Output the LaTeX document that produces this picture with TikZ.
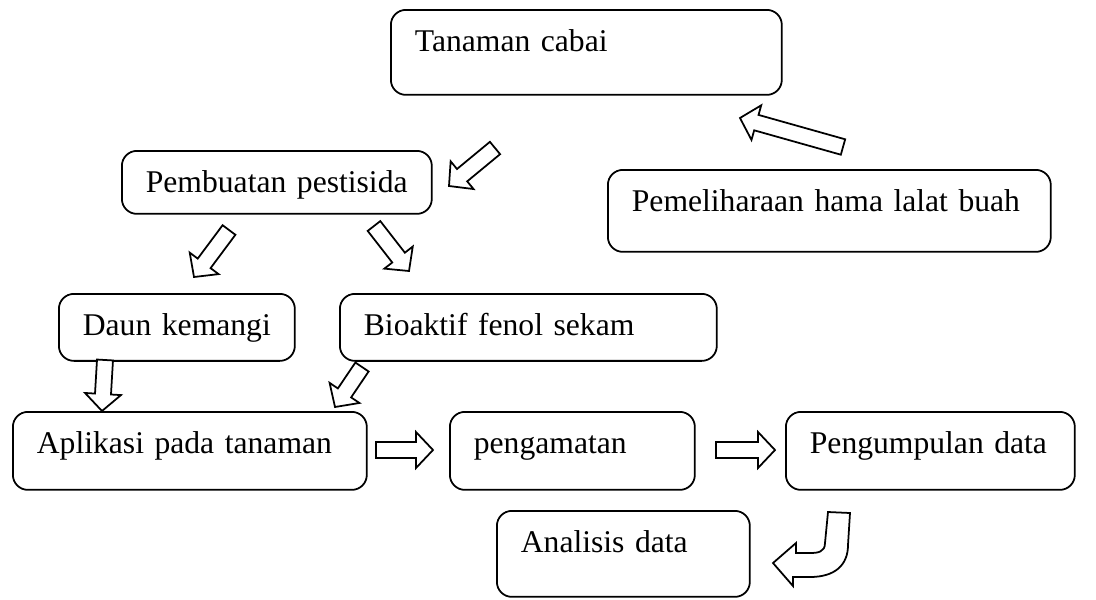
\documentclass[tikz,border=0pt]{standalone}
\usepackage{fontspec}
\setmainfont{Liberation Serif}
\usetikzlibrary{calc}

\tikzset{
  stage/.style 2 args={draw, line width=1pt, rounded corners=0.3cm, anchor=north west,
    align=left, inner xsep=0.48cm, inner ysep=0pt, text height=0.84cm,
    text width=#1, text depth=#2, font=\fontsize{18}{22}\selectfont},
  hollow/.style={draw, line width=1pt, fill=white, line join=miter}
}

\newcommand{\hollowarrow}[2]{%
  \coordinate (hb) at ($(#2)!0.34cm!(#1)$);
  \draw[hollow] ($(#1)!0.16cm!90:(#2)$) -- ($(hb)!0.16cm!90:(#2)$) -- ($(hb)!0.36cm!90:(#2)$)
    -- (#2) -- ($(hb)!0.36cm!-90:(#2)$) -- ($(hb)!0.16cm!-90:(#2)$) -- ($(#1)!0.16cm!-90:(#2)$) -- cycle;}

\begin{document}
\begin{tikzpicture}[x=0.02cm,y=-0.02cm]
\useasboundingbox (0,0) rectangle (1096,599);

\node[stage={6.86cm}{0.86cm}] (cabai) at (390,9) {Tanaman cabai};
\node[stage={5.24cm}{0.42cm}] (pestisida) at (121,150) {Pembuatan pestisida};
\node[stage={7.90cm}{0.80cm}] (hama) at (607,169) {Pemeliharaan hama lalat buah};
\node[stage={3.76cm}{0.50cm}] (kemangi) at (58,293) {Daun kemangi};
\node[stage={6.58cm}{0.50cm}] (fenol) at (339,293) {Bioaktif fenol sekam};
\node[stage={6.12cm}{0.72cm}] (aplikasi) at (12,411) {Aplikasi pada tanaman};
\node[stage={3.94cm}{0.72cm}] (amat) at (449,411) {pengamatan};
\node[stage={4.82cm}{0.72cm}] (kumpul) at (785,411) {Pengumpulan data};
\node[stage={4.10cm}{0.88cm}] (analisis) at (496,510) {Analisis data};

\coordinate (a1) at (843,147); \coordinate (b1) at (740,118);
\coordinate (a2) at (495,148); \coordinate (b2) at (449,186);
\coordinate (a3) at (229,230); \coordinate (b3) at (194,277);
\coordinate (a4) at (374,226); \coordinate (b4) at (409,271);
\coordinate (a5) at (105,360); \coordinate (b5) at (102,411);
\coordinate (a6) at (362,367); \coordinate (b6) at (335,407);
\coordinate (a7) at (376,450); \coordinate (b7) at (433,450);
\coordinate (a8) at (716,450); \coordinate (b8) at (775,450);

\hollowarrow{a1}{b1}
\hollowarrow{a2}{b2}
\hollowarrow{a3}{b3}
\hollowarrow{a4}{b4}
\hollowarrow{a5}{b5}
\hollowarrow{a6}{b6}
\hollowarrow{a7}{b7}
\hollowarrow{a8}{b8}

\draw[hollow] (828,512) -- (825,543) .. controls (825,552) and (818,553) .. (810,553)
  -- (796,553) -- (796,543) -- (773,563) -- (793,586) -- (793,577) -- (810,577)
  .. controls (835,577) and (848,565) .. (848,545) -- (850,513) -- cycle;
\end{tikzpicture}
\end{document}
